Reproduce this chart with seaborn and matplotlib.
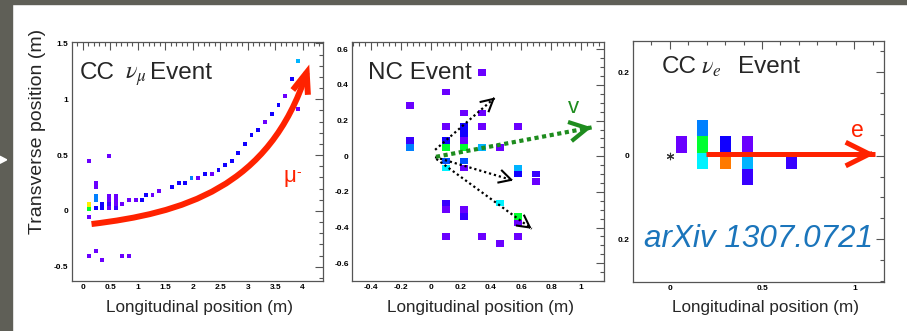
import numpy as np
import matplotlib
matplotlib.use("Agg")
import matplotlib.pyplot as plt
import seaborn as sns
from matplotlib.patches import Rectangle, Polygon, FancyArrowPatch
from matplotlib.path import Path
from matplotlib.ticker import MultipleLocator

# ---------------- colour codes (ROOT rainbow palette) ----------------
PAL = {'P': '#6a00ff', 'B': '#1000ff', 'V': '#3800ff', 'L': '#0080ff',
       'M': '#0050ff', 'S': '#00b4ff', 'C': '#00f2ff', 'G': '#00ff30',
       'Y': '#ffee00', 'O': '#ff7a00'}

# ---------------- Panel 1 : CC nu_mu event ----------------
mu_x = [0.115, 0.48, 0.115, 0.115, 0.115,
        0.236, 0.236, 0.236, 0.236, 0.236,
        0.357, 0.357,
        0.478, 0.478, 0.478, 0.478,
        0.60, 0.60, 0.60, 0.60,
        0.72, 0.84, 0.97, 1.08, 1.15, 1.27, 1.39,
        1.63, 1.75, 1.86, 1.98, 2.10, 2.22, 2.35,
        2.47, 2.59, 2.71, 2.83, 2.95, 3.07, 3.19,
        3.31, 3.44, 3.56, 3.68, 3.80, 3.92, 3.92,
        0.115, 0.236, 0.357, 0.72, 0.84]
mu_y = [0.45, 0.49, 0.057, 0.019, -0.057,
        0.25, 0.215, 0.137, 0.10, 0.025,
        0.062, 0.025,
        0.137, 0.10, 0.062, 0.025,
        0.137, 0.10, 0.062, 0.025,
        0.062, 0.095, 0.095, 0.095, 0.14, 0.14, 0.18,
        0.215, 0.25, 0.25, 0.295, 0.295, 0.33, 0.33,
        0.37, 0.41, 0.45, 0.52, 0.60, 0.68, 0.72,
        0.80, 0.87, 0.95, 1.03, 1.18, 1.34, 0.915,
        -0.40, -0.36, -0.44, -0.40, -0.40]
mu_c = ['P', 'P', 'Y', 'G', 'P',
        'P', 'P', 'L', 'L', 'B',
        'B', 'B',
        'P', 'P', 'V', 'P',
        'P', 'P', 'P', 'V',
        'P', 'P', 'P', 'B', 'B', 'P', 'P',
        'B', 'B', 'B', 'L', 'P', 'B', 'P',
        'B', 'B', 'B', 'B', 'B', 'B', 'B',
        'P', 'B', 'B', 'P', 'B', 'S', 'P',
        'P', 'P', 'P', 'P', 'P']
# muon track arrow: cubic Bezier (start, two control points, tip)
mu_trk_x = [0.16, 1.8, 3.4, 4.12]
mu_trk_y = [-0.118, -0.02, 0.20, 1.31]
mu_x_ticks = [0, 0.5, 1, 1.5, 2, 2.5, 3, 3.5, 4]
mu_x_labels = ['0', '0.5', '1', '1.5', '2', '2.5', '3', '3.5', '4']
mu_y_ticks = [-0.5, 0, 0.5, 1, 1.5]
mu_y_labels = ['-0.5', '0', '0.5', '1', '1.5']

# ---------------- Panel 2 : NC event ----------------
nc_x = [-0.14, -0.14, -0.14,
        0.10, 0.10, 0.10, 0.10, 0.10, 0.10, 0.10, 0.10, 0.10,
        0.22, 0.22, 0.22, 0.22, 0.22, 0.22, 0.22, 0.22, 0.22,
        0.34, 0.34, 0.34, 0.34, 0.34,
        0.46, 0.46, 0.46,
        0.58, 0.58, 0.58, 0.58, 0.58, 0.58,
        0.70, 0.70]
nc_y = [0.284, 0.088, 0.05,
        0.36, 0.166, 0.088, 0.05, -0.026, -0.065, -0.263, -0.30, -0.45,
        0.243, 0.166, 0.129, 0.088, 0.05, -0.026, -0.065, -0.30, -0.338,
        0.47, 0.243, 0.166, 0.05, -0.45,
        0.05, -0.263, -0.49,
        0.166, -0.065, -0.10, -0.338, -0.375, -0.45,
        -0.10, -0.14]
nc_c = ['P', 'V', 'L',
        'P', 'P', 'B', 'G', 'M', 'C', 'V', 'P', 'P',
        'P', 'B', 'B', 'P', 'G', 'M', 'P', 'P', 'V',
        'P', 'P', 'P', 'S', 'P',
        'P', 'C', 'P',
        'P', 'S', 'B', 'G', 'P', 'P',
        'V', 'P']
# daughter-particle arrows (start -> tip)
nc_trk_x0 = [0.027, 0.027, 0.035]
nc_trk_y0 = [0.036, -0.005, -0.015]
nc_trk_x1 = [0.427, 0.549, 0.671]
nc_trk_y1 = [0.330, -0.136, -0.407]
nc_nu_x = [0.033, 1.071]
nc_nu_y = [-0.003, 0.162]
nc_x_ticks = [-0.4, -0.2, 0, 0.2, 0.4, 0.6, 0.8, 1]
nc_x_labels = ['-0.4', '-0.2', '0', '0.2', '0.4', '0.6', '0.8', '1']
nc_y_ticks = [-0.6, -0.4, -0.2, 0, 0.2, 0.4, 0.6]
nc_y_labels = ['-0.6', '-0.4', '-0.2', '0', '0.2', '0.4', '0.6']

# ---------------- Panel 3 : CC nu_e event ----------------
ne_x = [0.063, 0.18, 0.18, 0.18, 0.30, 0.30, 0.42, 0.42, 0.42, 0.66]
ne_y = [0.027, 0.065, 0.027, -0.012, 0.027, -0.012, 0.027, -0.012, -0.051, -0.012]
ne_c = ['P', 'L', 'G', 'C', 'B', 'O', 'P', 'S', 'V', 'V']
ne_vtx_x = [0.0]
ne_vtx_y = [0.0]
ne_trk_x = [0.195, 1.111]
ne_trk_y = [0.004, 0.004]
ne_x_ticks = [0, 0.5, 1]
ne_x_labels = ['0', '0.5', '1']
ne_y_ticks = [-0.2, 0, 0.2]
ne_y_labels = ['0.2', '0', '0.2']

# ---------------- style ----------------
sns.set_style("white")
plt.rcParams['font.family'] = ['Liberation Sans', 'DejaVu Sans']
plt.rcParams['mathtext.fontset'] = 'stix'

W, H = 907, 331
fig = plt.figure(figsize=(W / 100, H / 100), dpi=100)
fig.patch.set_facecolor('white')


def fx(px):
    return px / W


def fy(py):
    return 1 - py / H


def ftext(px, py, s, **kw):
    kw.setdefault('va', 'baseline')
    return fig.text(fx(px), fy(py), s, **kw)


# slide frame
GREY = '#5f5f57'
fig.patches.append(Rectangle((0, 0), fx(12), 1, transform=fig.transFigure,
                             color=GREY, zorder=-5))
fig.patches.append(Rectangle((0, fy(4)), 1, 4 / H, transform=fig.transFigure,
                             color=GREY, zorder=-5))
fig.patches.append(Polygon([(0, fy(156.3)), (fx(6.7), fy(159.8)), (0, fy(163.3))],
                           closed=True, transform=fig.transFigure,
                           color='white', zorder=-4))

ax1 = fig.add_axes([fx(72), fy(281), (323 - 72) / W, (281 - 42) / H])
ax2 = fig.add_axes([fx(352.3), fy(281), (604.3 - 352.3) / W, (281 - 41.7) / H])
ax3 = fig.add_axes([fx(632.7), fy(281.7), (884.3 - 632.7) / W, (281.7 - 41) / H])

RED = '#ff2200'
GREEN = '#1e8c1e'


def draw_cells(ax, xs, ys, cs, w, h):
    ys = np.asarray(ys, dtype=float)
    ax.bar(xs, np.full(len(xs), h), bottom=ys - h / 2, width=w,
           color=[PAL[c] for c in cs], linewidth=0, zorder=2)


def head(ax, start, tip, color, lw, ms, hl, hw):
    # short segment along the shaft direction, open chevron head
    d = 0.02
    xt = (tip[0] - d * (tip[0] - start[0]), tip[1] - d * (tip[1] - start[1]))
    ax.annotate('', xy=tip, xytext=xt,
                arrowprops=dict(arrowstyle=f'->,head_length={hl},head_width={hw}',
                                color=color, lw=lw, mutation_scale=ms,
                                shrinkA=0, shrinkB=0, joinstyle='miter',
                                capstyle='butt'),
                zorder=5)


def style_axes(ax, xl, yl, xt, xtl, yt, ytl, xmin, ymin):
    ax.set_xlim(*xl)
    ax.set_ylim(*yl)
    ax.set_xticks(xt, xtl, fontsize=6, fontweight='bold')
    ax.set_yticks(yt, ytl, fontsize=6, fontweight='bold')
    ax.xaxis.set_minor_locator(MultipleLocator(xmin))
    ax.yaxis.set_minor_locator(MultipleLocator(ymin))
    ax.tick_params(which='both', direction='in', top=True, right=True,
                   color='#555555', width=0.8, labelcolor='black')
    ax.tick_params(which='major', length=5.5)
    ax.tick_params(which='minor', length=2.6)
    ax.tick_params(axis='y', pad=2.5)
    ax.tick_params(axis='x', pad=2.5)
    for s in ax.spines.values():
        s.set_color('#555555')
        s.set_linewidth(0.9)
        s.set_visible(True)
    ax.set_facecolor('white')


# ---- panel 1
draw_cells(ax1, mu_x, mu_y, mu_c, 0.068, 0.036)
mu_path = Path(list(zip(mu_trk_x, mu_trk_y)),
               [Path.MOVETO, Path.CURVE4, Path.CURVE4, Path.CURVE4])
mu_arrow = FancyArrowPatch(path=mu_path,
                           arrowstyle='->,head_length=0.5,head_width=0.19',
                           mutation_scale=30, color=RED, lw=4.3,
                           joinstyle='miter', capstyle='butt',
                           transform=ax1.transData, zorder=4)
ax1.add_patch(mu_arrow)
style_axes(ax1, (-0.195, 4.37), (-0.628, 1.512), mu_x_ticks, mu_x_labels,
           mu_y_ticks, mu_y_labels, 0.1, 0.1)

# ---- panel 2
draw_cells(ax2, nc_x, nc_y, nc_c, 0.058, 0.0375)
for x0, y0, x1, y1 in zip(nc_trk_x0, nc_trk_y0, nc_trk_x1, nc_trk_y1):
    ax2.plot([x0, x1], [y0, y1], color='black', lw=1.6,
             linestyle=(0, (1, 1.3)), dash_capstyle='butt', zorder=4)
    head(ax2, (x0, y0), (x1, y1), 'black', 1.5, 20, 0.45, 0.24)
ax2.plot(nc_nu_x, nc_nu_y, color=GREEN, lw=3.0, linestyle=(0, (1, 0.85)),
         dash_capstyle='butt', zorder=4)
head(ax2, (nc_nu_x[0], nc_nu_y[0]), (nc_nu_x[1], nc_nu_y[1]), GREEN, 3.0, 28, 0.46, 0.25)
style_axes(ax2, (-0.525, 1.155), (-0.70, 0.643), nc_x_ticks, nc_x_labels,
           nc_y_ticks, nc_y_labels, 0.04, 0.05)

# ---- panel 3
draw_cells(ax3, ne_x, ne_y, ne_c, 0.06, 0.039)
sns.scatterplot(x=ne_vtx_x, y=ne_vtx_y, ax=ax3, marker=(6, 2, 0), s=22,
                color='#333333', linewidth=0.8, zorder=3, legend=False)
ax3.plot(ne_trk_x, ne_trk_y, color=RED, lw=3.6, solid_capstyle='butt', zorder=4)
head(ax3, (ne_trk_x[0], ne_trk_y[0]), (ne_trk_x[1], ne_trk_y[1]), RED, 3.6, 34, 0.5, 0.25)
style_axes(ax3, (-0.2, 1.162), (-0.302, 0.275), ne_x_ticks, ne_x_labels,
           ne_y_ticks, ne_y_labels, 0.1, 0.05)

# ---------------- texts ----------------
TS = 17.5
ftext(80, 79, 'CC', fontsize=TS)
ftext(125, 79, r'$\nu_{\mu}$', fontsize=TS)
ftext(150, 79, 'Event', fontsize=TS)
ftext(367.7, 79, 'NC Event', fontsize=TS)
ftext(662, 73.3, 'CC', fontsize=TS)
ftext(701, 73.3, r'$\nu_{e}$', fontsize=TS)
ftext(738, 73.3, 'Event', fontsize=TS)

ftext(283.5, 182, 'μ', fontsize=16, color=RED)
ftext(296.5, 176, '-', fontsize=10, color=RED)
ftext(568, 113.3, 'v', fontsize=16, color=GREEN)
ftext(851.5, 137, 'e', fontsize=16.5, color=RED)
ftext(644, 246.7, 'arXiv 1307.0721', fontsize=22.6, color='#1b75bb', style='italic')

for cx in (199.5, 480, 765):
    ftext(cx, 312.3, 'Longitudinal position (m)', fontsize=12.3, ha='center')
fig.text(fx(37.5), fy(131.7), 'Transverse position (m)', fontsize=14,
         rotation=90, ha='center', va='center')

fig.savefig('out.png', dpi=100, facecolor='white')
